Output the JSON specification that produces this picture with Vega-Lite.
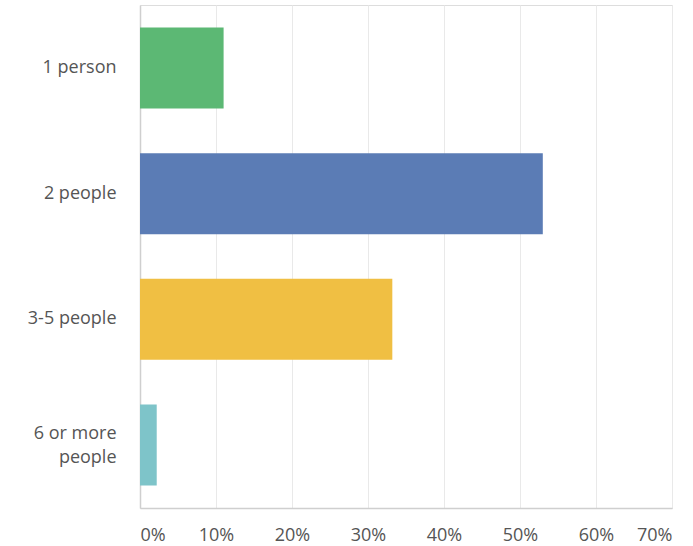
{
  "$schema": "https://vega.github.io/schema/vega-lite/v6.json",
  "width": 532,
  "height": 503,
  "autosize": {"type": "none"},
  "padding": {"left": 140, "top": 5, "right": 21, "bottom": 38},
  "background": "white",
  "data": {
    "values": [
      {"category": "1 person", "share": 0.11},
      {"category": "2 people", "share": 0.53},
      {"category": "3-5 people", "share": 0.332},
      {"category": "6 or more people", "share": 0.022}
    ]
  },
  "mark": {"type": "bar"},
  "encoding": {
    "y": {
      "field": "category",
      "type": "nominal",
      "sort": null,
      "title": null,
      "scale": {"paddingInner": 0.356, "paddingOuter": 0.18},
      "axis": {
        "domain": true,
        "domainColor": "#cfcfcf",
        "domainWidth": 1.5,
        "ticks": false,
        "labelPadding": 24,
        "labelFont": "Open Sans",
        "labelFontSize": 18,
        "labelColor": "#555555",
        "labelLineHeight": 24,
        "labelOffset": {"condition": {"test": "datum.value == '6 or more people'", "value": -11}, "value": 0},
        "labelExpr": "datum.value == '6 or more people' ? ['6 or more', 'people'] : datum.value"
      }
    },
    "x": {
      "field": "share",
      "type": "quantitative",
      "title": null,
      "scale": {"domain": [0, 0.7], "nice": false},
      "axis": {
        "format": ".0%",
        "values": [0, 0.1, 0.2, 0.3, 0.4, 0.5, 0.6, 0.7],
        "domain": true,
        "domainColor": "#cfcfcf",
        "domainWidth": 1.5,
        "ticks": false,
        "grid": true,
        "gridColor": "#e9e9e9",
        "gridWidth": 1,
        "labelPadding": 18,
        "labelFont": "Open Sans",
        "labelFontSize": 18,
        "labelColor": "#555555"
      }
    },
    "color": {
      "field": "category",
      "type": "nominal",
      "legend": null,
      "scale": {
        "domain": ["1 person", "2 people", "3-5 people", "6 or more people"],
        "range": ["#5cb874", "#5b7cb5", "#f0bf43", "#7ec4c9"]
      }
    }
  }
}
